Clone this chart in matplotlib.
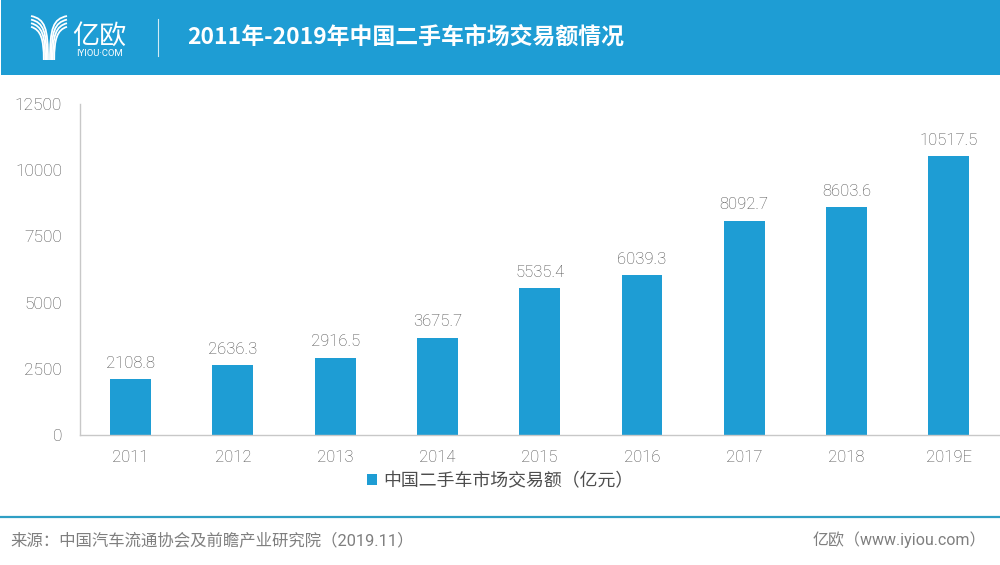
#!/usr/bin/env python
# Used car market turnover in China, 2011-2019E

import matplotlib
matplotlib.use("Agg")
import numpy as np
import matplotlib.pyplot as plt
from matplotlib.patches import Rectangle, PathPatch
from matplotlib.path import Path

plt.rcParams['font.family'] = ['Noto Sans CJK SC', 'DejaVu Sans']
NUM_FONT = ['Roboto', 'DejaVu Sans']
MIX_FONT = ['Roboto', 'Noto Sans CJK SC']

years = ["2011", "2012", "2013", "2014", "2015", "2016", "2017", "2018", "2019E"]
values = [2108.8, 2636.3, 2916.5, 3675.7, 5535.4, 6039.3, 8092.7, 8603.6, 10517.5]
y_ticks = [0, 2500, 5000, 7500, 10000, 12500]

title = "2011年-2019年中国二手车市场交易额情况"
legend_label = "中国二手车市场交易额（亿元）"
source = "来源：中国汽车流通协会及前瞻产业研究院（2019.11）"
credit = "亿欧（www.iyiou.com）"

BLUE = "#1e9dd4"
GREY = "#4d4d4d"
W, H = 1000, 565

fig = plt.figure(figsize=(10, 5.65), dpi=100)

# overlay in pixel coordinates for header and footer
bg = fig.add_axes([0, 0, 1, 1])
bg.set_xlim(0, W)
bg.set_ylim(H, 0)
bg.axis("off")

bg.add_patch(Rectangle((1, 0), 999, 75, color=BLUE, lw=0))
bg.plot([158, 158], [19, 56], color="white", lw=0.8, alpha=0.8)
bg.text(187, 37.5, title, color="white", fontsize=16.5, fontweight="black", va="center", ha="left")

# logo: curved strands forming a Y
codes = [Path.MOVETO, Path.CURVE4, Path.CURVE4, Path.CURVE4]
for i in range(4):
    y0 = 16 + 3.6 * i
    xl = 48 - 1.4 * i
    xr = 50 + 1.4 * i
    left = Path([(31, y0), (xl - 3, y0 + 3), (xl, y0 + 12), (xl, 60)], codes)
    right = Path([(67, y0), (xr + 3, y0 + 3), (xr, y0 + 12), (xr, 60)], codes)
    for p in (left, right):
        bg.add_patch(PathPatch(p, fc="none", ec="white", lw=1.3))
bg.text(99, 36, "亿欧", color="white", fontsize=19.5, va="center", ha="center")
bg.text(99, 53, "IYIOU·COM", color="white", fontsize=6.8, va="center", ha="center", family=NUM_FONT)

# footer
bg.plot([1, 1000], [516.5, 516.5], color="#2f9fc4", lw=1.6)
bg.text(10, 540, source, color="#7f7f7f", fontsize=11.8, va="center", ha="left", family=MIX_FONT)
bg.text(986, 540, credit, color="#7f7f7f", fontsize=11.5, va="center", ha="right", family=MIX_FONT)

# chart
ax = fig.add_axes([79.5 / W, (H - 435) / H, 920.5 / W, 331 / H])
ax.patch.set_alpha(0)
x = np.arange(len(years))
bars = ax.bar(x, values, width=0.4, color=BLUE, label=legend_label)
ax.set_xlim(-0.5, len(years) - 0.5)
ax.set_ylim(0, 12500)
ax.set_xticks(x, years, family=NUM_FONT, fontweight="light")
ax.set_yticks(y_ticks, [str(t) for t in y_ticks], family=NUM_FONT, fontweight="light")
ax.tick_params(axis="x", length=0, labelsize=12, labelcolor=GREY, pad=10.5)
ax.tick_params(axis="y", length=0, labelsize=12.5, labelcolor=GREY, pad=12.5)
for side in ["top", "right"]:
    ax.spines[side].set_visible(False)
for side in ["left", "bottom"]:
    ax.spines[side].set_color("#c8c8c8")
    ax.spines[side].set_linewidth(1)

ax.bar_label(bars, labels=[f"{v:.1f}" for v in values], padding=6, fontsize=12, color=GREY,
             family=NUM_FONT, fontweight="light")

fig.legend(handles=[bars], labels=[legend_label], loc="center", bbox_to_anchor=(500 / W, (H - 481) / H),
           frameon=False, fontsize=12.9, labelcolor=GREY, handlelength=0.55, handleheight=0.55, handletextpad=0.35)

fig.savefig("out.png", dpi=100)
